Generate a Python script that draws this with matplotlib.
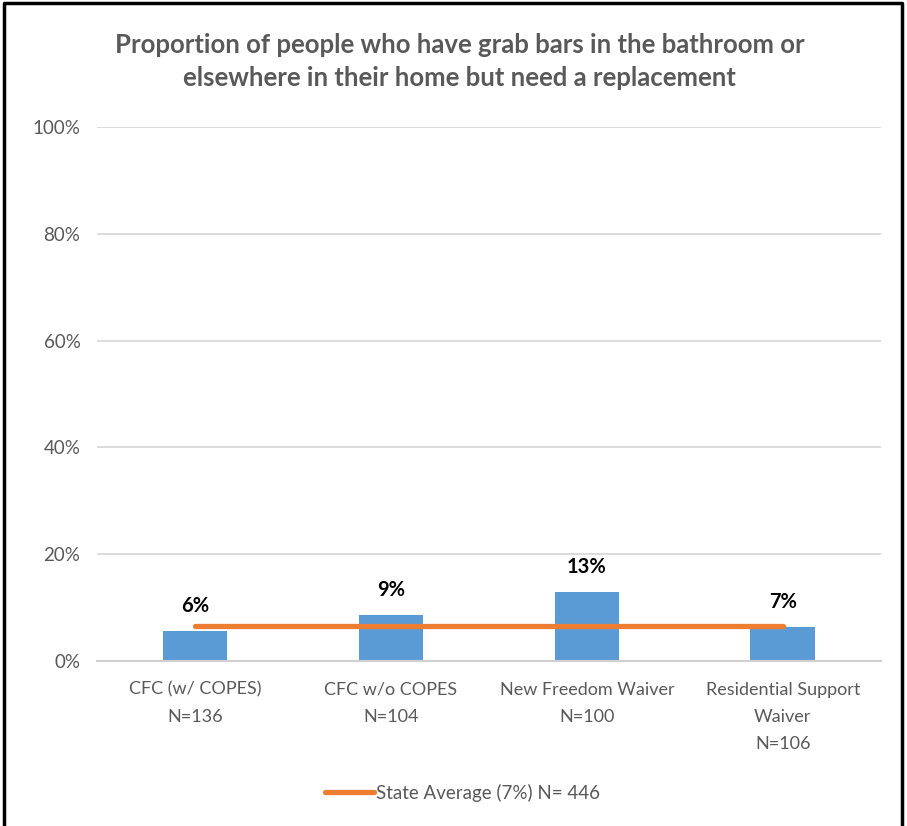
import numpy as np
from matplotlib import pyplot as plt

# Chart data
categories = ["CFC (w/ COPES)\nN=136", "CFC w/o COPES\nN=104",
              "New Freedom Waiver\nN=100", "Residential Support\nWaiver\nN=106"]
values = [5.6, 8.6, 12.9, 6.4]
bar_labels = ["6%", "9%", "13%", "7%"]
state_avg = [6.6, 6.6, 6.6, 6.6]
legend_label = "State Average (7%) N= 446"
title = "Proportion of people who have grab bars in the bathroom or\nelsewhere in their home but need a replacement"

FONT = "Lato"
GREY = "#595959"
BLUE = "#5b9bd5"
ORANGE = "#ed7d31"

fig = plt.figure(figsize=(9.07, 8.26), dpi=100)
fig.patch.set_facecolor("white")
ax = fig.add_axes([0.107, 0.1998, 0.864, 0.6464])

x = np.arange(len(categories))
ax.bar(x, values, width=0.33, color=BLUE, zorder=2)
line, = ax.plot(x, state_avg, color=ORANGE, linewidth=3.8, solid_capstyle="round", zorder=3)

# value labels above the bars
for xi, v, lab in zip(x, values, bar_labels):
    ax.annotate(lab, (xi, v), xytext=(0, 11), textcoords="offset points",
                ha="center", va="bottom", fontsize=14.5, fontweight="bold",
                family=FONT, color="black")

ax.set_xlim(-0.5, 3.5)
ax.set_ylim(0, 100)
ax.set_yticks([0, 20, 40, 60, 80, 100])
ax.set_yticklabels(["0%", "20%", "40%", "60%", "80%", "100%"], family=FONT,
                   fontsize=13.5, color=GREY)
ax.set_xticks(x)
ax.set_xticklabels(categories, family=FONT, fontsize=13, color=GREY,
                   linespacing=1.85, va="top")
ax.tick_params(axis="both", length=0)
ax.tick_params(axis="y", pad=12)
ax.tick_params(axis="x", pad=15)
ax.grid(axis="y", color="#d9d9d9", linewidth=1.3, zorder=0)
ax.set_axisbelow(True)
for s in ["top", "right", "left"]:
    ax.spines[s].set_visible(False)
ax.spines["bottom"].set_color("#d0d0d0")
ax.spines["bottom"].set_linewidth(1.5)

fig.text(0.507, 0.926, title, ha="center", va="center", fontsize=18.5,
         fontweight="bold", family=FONT, color=GREY, linespacing=1.45)

leg = fig.legend([line], [legend_label], loc="center", bbox_to_anchor=(0.51, 0.04),
                 frameon=False, handlelength=2.6, handletextpad=0.1,
                 prop={"family": FONT, "size": 13.5})
for t in leg.get_texts():
    t.set_color(GREY)

# outer black frame (bottom edge cropped in the reference)
fig.add_artist(plt.Line2D([0.004, 0.004, 0.995, 0.995], [0.0, 0.996, 0.996, 0.0],
                          transform=fig.transFigure, color="black", linewidth=2.5))

plt.savefig("out.png", dpi=100)
